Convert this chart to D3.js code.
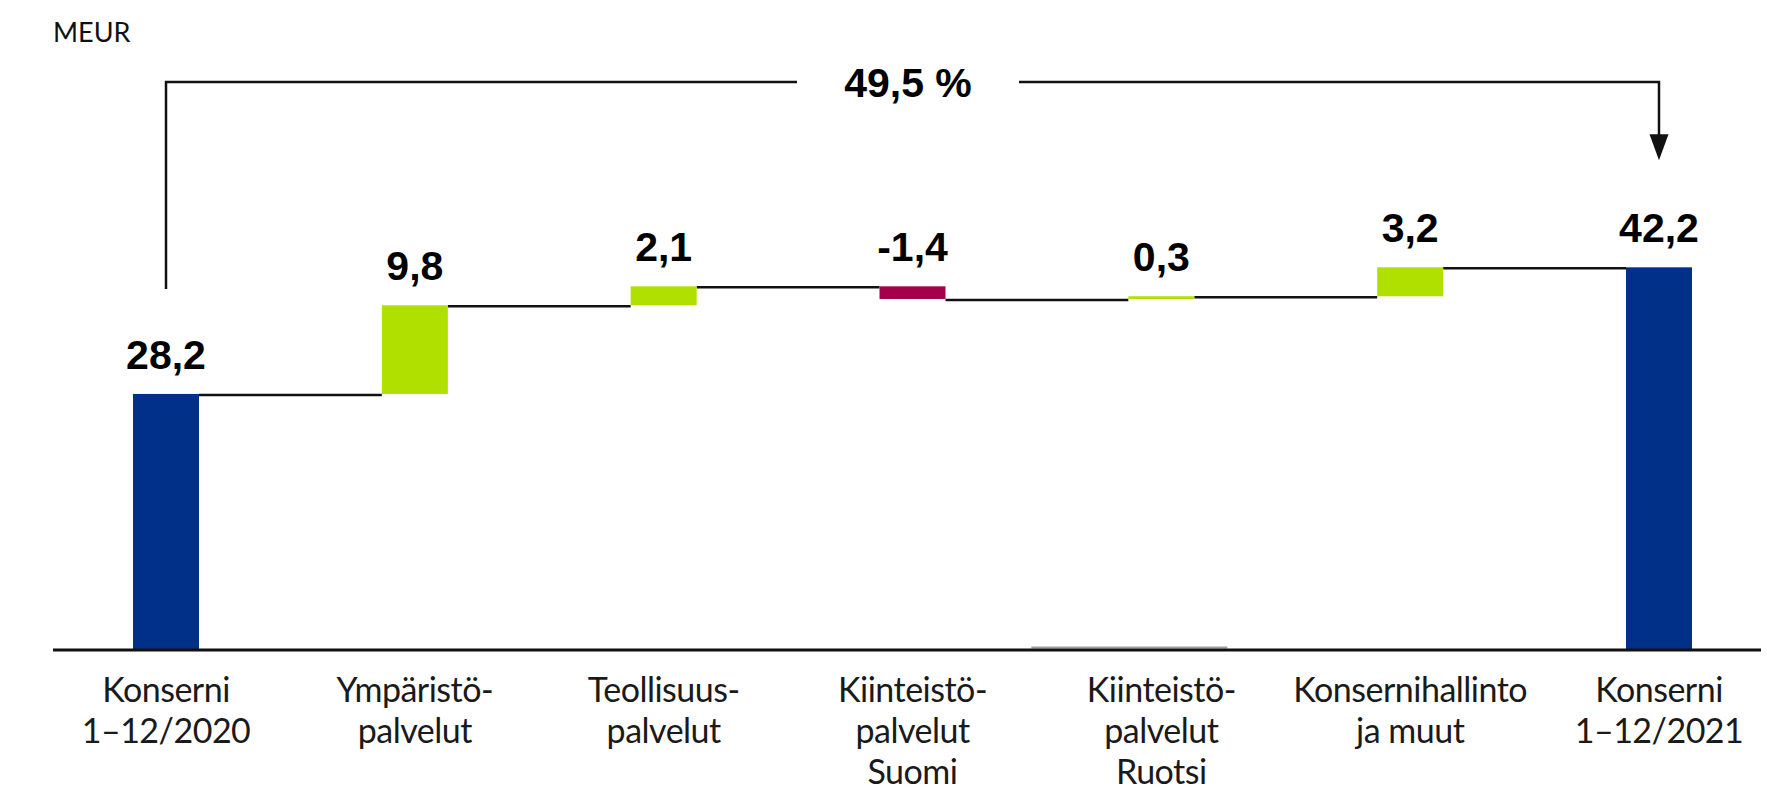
<!DOCTYPE html>
<html>
<head>
<meta charset="utf-8">
<script src="https://cdn.jsdelivr.net/npm/d3@7"></script>
<style>
  html, body { margin: 0; padding: 0; background: #fff; }
  svg { display: block; }
</style>
</head>
<body>
<div id="chart-area"></div>
<script>
// data
const categories = [
  'Konserni\n1–12/2020',
  'Ympäristö-\npalvelut',
  'Teollisuus-\npalvelut',
  'Kiinteistö-\npalvelut\nSuomi',
  'Kiinteistö-\npalvelut\nRuotsi',
  'Konsernihallinto\nja muut',
  'Konserni\n1–12/2021',
];
const values = [28.2, 9.8, 2.1, -1.4, 0.3, 3.2, 42.2];
const barTypes = ['total', 'delta', 'delta', 'delta', 'delta', 'delta', 'total'];
const unitLabel = 'MEUR';
const changeLabel = '49,5 %';

let width = 1767;
let height = 787;
let totalColor = '#003087';
let upColor = '#b0e000';
let downColor = '#a5004a';

// running totals -> start/end of every bar
let running = 0;
let bars = values.map((v, i) => {
  let d = { cat: categories[i], value: v, type: barTypes[i] };
  if (d.type == 'total') {
    d.start = 0;
    d.end = v;
    running = v;
  } else {
    d.start = running;
    d.end = running + v;
    running = d.end;
  }
  return d;
});

let fmt = d3.formatLocale({
  decimal: ',',
  thousands: ' ',
  grouping: [3],
  currency: ['', ''],
  minus: '-',
}).format('.1f');

let step = 248.83;
let xScale = d3
  .scaleBand()
  .domain(categories)
  .range([166 - step / 2, 1659 + step / 2])
  .paddingInner(0.7348)
  .paddingOuter(0.3674);

let yScale = d3.scaleLinear().domain([0, 45]).range([649, 242]);

let chart = d3
  .select('#chart-area')
  .append('svg')
  .attr('width', width)
  .attr('height', height);

//unit label
chart
  .append('text')
  .attr('x', 53)
  .attr('y', 42)
  .attr('font-family', 'Lato, sans-serif')
  .attr('font-size', '27px')
  .attr('fill', '#111')
  .text(unitLabel);

//connector lines between bars
chart
  .append('g')
  .selectAll('line')
  .data(bars.slice(0, -1))
  .enter()
  .append('line')
  .attr('x1', (d) => xScale(d.cat) + xScale.bandwidth())
  .attr('x2', (d, i) => xScale(bars[i + 1].cat))
  .attr('y1', (d) => yScale(d.end) + 1)
  .attr('y2', (d) => yScale(d.end) + 1)
  .attr('stroke', '#111')
  .attr('stroke-width', 2.5);

//faint grey line near the axis under "Ruotsi"
let ruotsiX = xScale(categories[4]) + xScale.bandwidth() / 2;
chart
  .append('line')
  .attr('x1', ruotsiX - 130)
  .attr('x2', ruotsiX + 66)
  .attr('y1', yScale(0) - 1.5)
  .attr('y2', yScale(0) - 1.5)
  .attr('stroke', '#9e9e9e')
  .attr('stroke-width', 2);

//bars
chart
  .append('g')
  .selectAll('rect')
  .data(bars)
  .enter()
  .append('rect')
  .attr('x', (d) => xScale(d.cat))
  .attr('width', xScale.bandwidth())
  .attr('y', (d) => yScale(Math.max(d.start, d.end)))
  .attr('height', (d) => Math.abs(yScale(d.start) - yScale(d.end)))
  .attr('fill', (d) => (d.type == 'total' ? totalColor : d.value < 0 ? downColor : upColor));

//value labels
chart
  .append('g')
  .selectAll('text')
  .data(bars)
  .enter()
  .append('text')
  .attr('x', (d) => xScale(d.cat) + xScale.bandwidth() / 2)
  .attr('y', (d) => yScale(Math.max(d.start, d.end)) - 25)
  .attr('text-anchor', 'middle')
  .attr('font-family', '"Liberation Sans", Arial, sans-serif')
  .attr('font-weight', 'bold')
  .attr('font-size', '41px')
  .attr('fill', '#000')
  .text((d) => fmt(d.value));

//x axis with category labels
let xAxis = d3.axisBottom(xScale).tickSize(0).tickFormat('');
let axisG = chart
  .append('g')
  .attr('transform', `translate(0, ${yScale(0)})`)
  .call(xAxis);
axisG.select('.domain').remove();
axisG
  .selectAll('.tick text')
  .attr('font-family', 'Lato, sans-serif')
  .attr('font-size', '34px')
  .attr('letter-spacing', '-0.5px')
  .attr('fill', '#1a1a1a')
  .attr('text-anchor', 'middle')
  .each(function (d) {
    let t = d3.select(this).attr('y', null).attr('dy', null);
    d.split('\n').forEach((line, i) => {
      t.append('tspan').attr('x', 0).attr('y', 53 + i * 41).text(line);
    });
  });

chart
  .append('line')
  .attr('x1', 53)
  .attr('x2', 1761)
  .attr('y1', yScale(0) + 1)
  .attr('y2', yScale(0) + 1)
  .attr('stroke', '#111')
  .attr('stroke-width', 3);

//change bracket with arrow
let firstX = xScale(categories[0]) + xScale.bandwidth() / 2;
let lastX = xScale(categories[categories.length - 1]) + xScale.bandwidth() / 2;
let bracketY = 82;
let midX = 908;
let gap = 111;
let leftEnd = yScale(bars[0].end) - 105;
let arrowTip = yScale(bars[bars.length - 1].end) - 107;
let arrowLen = 26;

chart
  .append('path')
  .attr('d', `M${firstX},${leftEnd}V${bracketY}H${midX - gap}`)
  .attr('fill', 'none')
  .attr('stroke', '#111')
  .attr('stroke-width', 2.5);
chart
  .append('path')
  .attr('d', `M${midX + gap},${bracketY}H${lastX}V${arrowTip - arrowLen + 2}`)
  .attr('fill', 'none')
  .attr('stroke', '#111')
  .attr('stroke-width', 2.5);
chart
  .append('path')
  .attr('d', `M${lastX - 9.5},${arrowTip - arrowLen}L${lastX + 9.5},${arrowTip - arrowLen}L${lastX},${arrowTip}Z`)
  .attr('fill', '#111');

chart
  .append('text')
  .attr('x', midX)
  .attr('y', bracketY + 15)
  .attr('text-anchor', 'middle')
  .attr('font-family', '"Liberation Sans", Arial, sans-serif')
  .attr('font-weight', 'bold')
  .attr('font-size', '41px')
  .attr('fill', '#000')
  .text(changeLabel);
</script>
</body>
</html>
